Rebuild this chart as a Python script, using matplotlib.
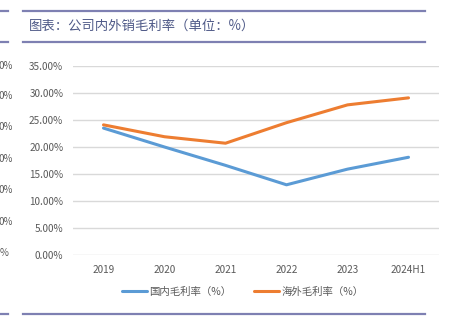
import matplotlib.pyplot as plt
from matplotlib.lines import Line2D
from matplotlib.ticker import PercentFormatter

plt.rcParams['font.family'] = ['Noto Sans CJK SC', 'DejaVu Sans']

years = ['2019', '2020', '2021', '2022', '2023', '2024H1']
domestic = [23.5, 20.0, 16.6, 13.0, 15.9, 18.1]
overseas = [24.1, 21.9, 20.7, 24.5, 27.8, 29.1]
ghost_ticks = ['0%', '0%', '0%', '0%', '0%', '0%', '%']

W, H = 451, 321
fig = plt.figure(figsize=(W / 100, H / 100), dpi=100)

def fx(px):
    return px / W

def fy(py):
    return 1 - py / H

# header / footer rules
rule_c = '#7e80b2'
for y in (11, 42, 314):
    fig.add_artist(Line2D([fx(0), fx(8)], [fy(y), fy(y)], color=rule_c, lw=1.6))
    fig.add_artist(Line2D([fx(23), fx(425)], [fy(y), fy(y)], color=rule_c, lw=1.6))

fig.text(fx(29), fy(26), '图表：公司内外销毛利率（单位：%）', fontsize=9.6,
         color='#4f5a88', va='center', ha='left')

# edge of the neighbouring chart's axis labels
ghost_y = [66, 96, 127, 159, 190, 222, 253]
ghost_x = [13, 13, 13, 13, 13, 13, 9]
for lab, gx, gy in zip(ghost_ticks, ghost_x, ghost_y):
    fig.text(fx(gx), fy(gy), lab, fontsize=7, color='#595959',
             ha='right', va='center')

ax = fig.add_axes([fx(73), fy(255), fx(439) - fx(73), fy(66) - fy(255)])
x = range(len(years))
ax.plot(x, domestic, color='#5b9bd5', lw=2.2, solid_capstyle='round', label='国内毛利率（%）')
ax.plot(x, overseas, color='#ed7d31', lw=2.2, solid_capstyle='round', label='海外毛利率（%）')

ax.set_xlim(-0.5, len(years) - 0.5)
ax.set_ylim(0, 35)
ax.set_yticks(range(0, 36, 5))
ax.yaxis.set_major_formatter(PercentFormatter(decimals=2))
ax.set_xticks(list(x))
ax.set_xticklabels(years)
ax.grid(axis='y', color='#d9d9d9', lw=1)
ax.set_axisbelow(True)
for s in ax.spines.values():
    s.set_visible(False)
ax.tick_params(length=0, labelsize=7.2, colors='#595959')
ax.tick_params(axis='x', pad=7.5)
ax.tick_params(axis='y', pad=7)

ax.legend(loc='center', bbox_to_anchor=(fx(243), fy(292)),
          bbox_transform=fig.transFigure, ncol=2, frameon=False, fontsize=7.5,
          handlelength=2.4, handletextpad=0.2, columnspacing=2.2, labelcolor='#595959')

fig.savefig('out.png', dpi=100)
